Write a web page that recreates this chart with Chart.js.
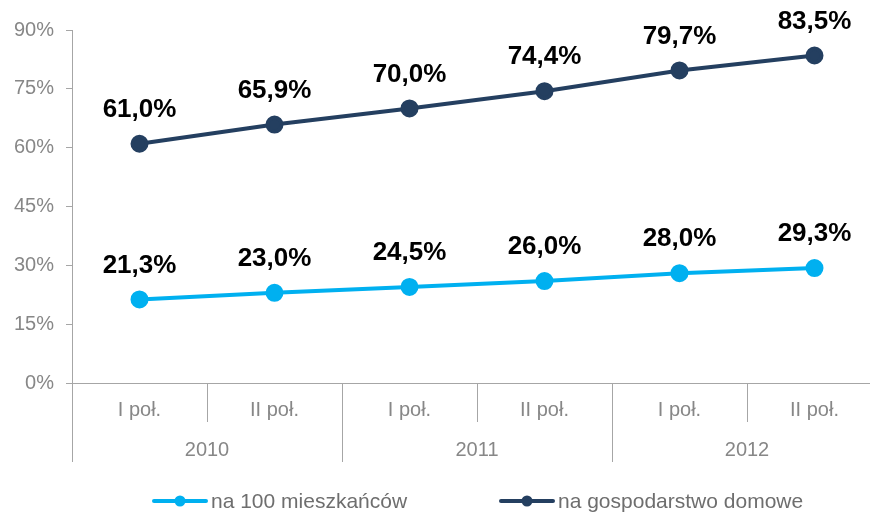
<!DOCTYPE html>
<html>
<head>
<meta charset="utf-8">
<script src="https://cdn.jsdelivr.net/npm/chart.js@4/dist/chart.umd.min.js"></script>
<style>
  html, body { margin: 0; padding: 0; background: #fff; overflow: hidden; }
  canvas { display: block; }
</style>
</head>
<body>
<canvas id="myChart" width="894" height="513"></canvas>
<script>
const halves = ['I poł.', 'II poł.', 'I poł.', 'II poł.', 'I poł.', 'II poł.'];
const years = ['2010', '2011', '2012'];
const perResident = [21.3, 23.0, 24.5, 26.0, 28.0, 29.3];
const perHousehold = [61.0, 65.9, 70.0, 74.4, 79.7, 83.5];
const seriesNames = ['na 100 mieszkańców', 'na gospodarstwo domowe'];

const LIGHT = '#00b0f0';
const DARK = '#243f60';
const AXIS = '#a6a6a6';
const TEXT = '#878787';
const FONT = '"Liberation Sans", Arial, sans-serif';

const fmt = v => v.toFixed(1).replace('.', ',') + '%';

const extras = {
    id: 'extras',
    afterDatasetsDraw(chart) {
        const c = chart.ctx;
        // value labels above points
        c.save();
        c.font = 'bold 26px ' + FONT;
        c.fillStyle = '#000';
        c.textAlign = 'center';
        c.textBaseline = 'middle';
        chart.data.datasets.forEach((ds, i) => {
            chart.getDatasetMeta(i).data.forEach((pt, j) => {
                c.fillText(fmt(ds.data[j]), pt.x, pt.y - 34);
            });
        });
        c.restore();
    },
    afterDraw(chart) {
        const c = chart.ctx;
        const x = chart.scales.x;
        const bottom = chart.chartArea.bottom;
        const step = x.getPixelForValue(1) - x.getPixelForValue(0);
        c.save();
        c.strokeStyle = AXIS;
        c.lineWidth = 1;
        for (let i = 0; i <= halves.length; i++) {
            const px = Math.round(x.getPixelForValue(i) - step / 2) + 0.5;
            const len = i % 2 === 0 ? 79 : 39;
            c.beginPath();
            c.moveTo(px, bottom);
            c.lineTo(px, bottom + len);
            c.stroke();
        }
        c.font = '20px ' + FONT;
        c.fillStyle = TEXT;
        c.textAlign = 'center';
        c.textBaseline = 'middle';
        halves.forEach((h, i) => c.fillText(h, x.getPixelForValue(i), bottom + 27));
        years.forEach((y, i) => {
            const px = (x.getPixelForValue(2 * i) + x.getPixelForValue(2 * i + 1)) / 2;
            c.fillText(y, px, bottom + 67);
        });
        // legend
        const items = [
            { label: seriesNames[0], color: LIGHT, x0: 154 },
            { label: seriesNames[1], color: DARK, x0: 501 }
        ];
        const ly = 501;
        c.font = '21px ' + FONT;
        c.textAlign = 'left';
        items.forEach(it => {
            c.strokeStyle = it.color;
            c.lineWidth = 4;
            c.lineCap = 'round';
            c.beginPath();
            c.moveTo(it.x0, ly);
            c.lineTo(it.x0 + 52, ly);
            c.stroke();
            c.fillStyle = it.color;
            c.beginPath();
            c.arc(it.x0 + 26, ly, 5.5, 0, Math.PI * 2);
            c.fill();
            c.fillStyle = '#6e6e6e';
            c.fillText(it.label, it.x0 + 57, ly + 1);
        });
        c.restore();
    }
};

new Chart(document.getElementById('myChart'), {
    type: 'line',
    plugins: [extras],
    data: {
        labels: halves,
        datasets: [
            {
                label: seriesNames[0],
                data: perResident,
                borderColor: LIGHT,
                backgroundColor: LIGHT,
                borderWidth: 4,
                pointRadius: 7,
                pointHoverRadius: 7,
                tension: 0
            },
            {
                label: seriesNames[1],
                data: perHousehold,
                borderColor: DARK,
                backgroundColor: DARK,
                borderWidth: 4,
                pointRadius: 7,
                pointHoverRadius: 7,
                tension: 0
            }
        ]
    },
    options: {
        responsive: false,
        animation: false,
        layout: { padding: { top: 30, right: 12, left: 0, bottom: 0 } },
        plugins: {
            legend: { display: false },
            tooltip: { enabled: false }
        },
        scales: {
            x: {
                offset: true,
                grid: { display: false },
                border: { display: true, color: AXIS, width: 1 },
                ticks: { display: false },
                afterFit: s => { s.height = 130; }
            },
            y: {
                min: 0,
                max: 90,
                grid: { drawOnChartArea: false, tickLength: 6, color: AXIS },
                border: { display: true, color: AXIS, width: 1 },
                ticks: {
                    stepSize: 15,
                    padding: 12,
                    color: TEXT,
                    font: { family: FONT, size: 20 },
                    callback: v => v + '%'
                },
                afterFit: s => { s.width = 72; }
            }
        }
    }
});
</script>
</body>
</html>
